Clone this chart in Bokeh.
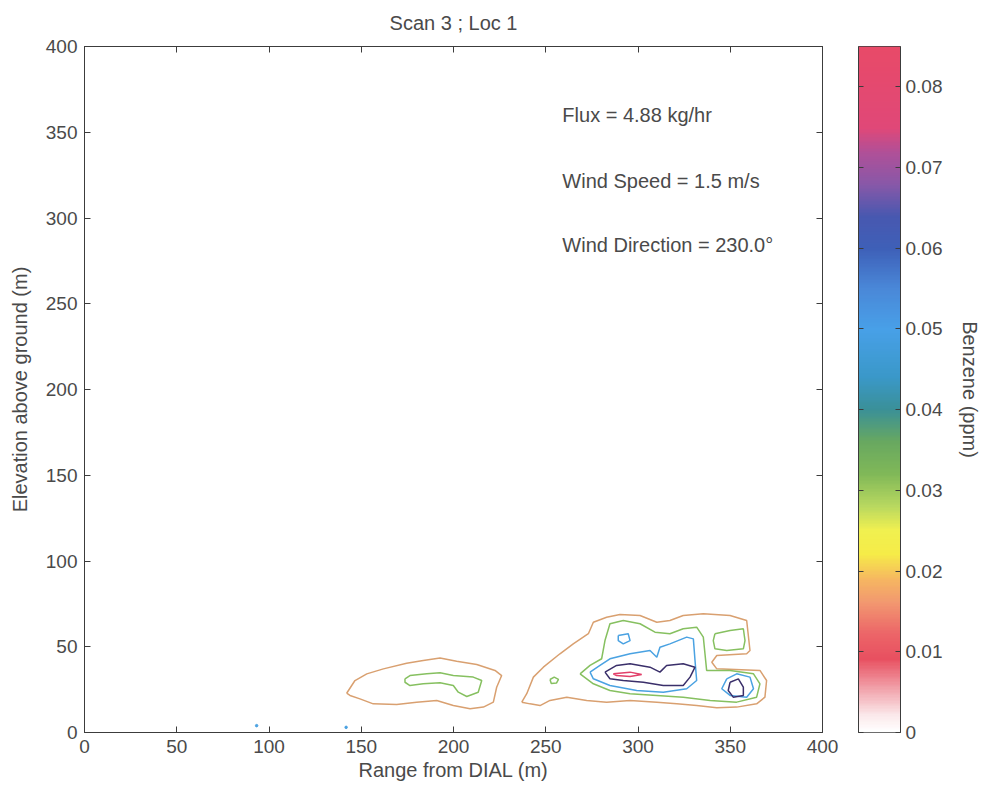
import numpy as np
from bokeh.plotting import figure
from bokeh.layouts import row
from bokeh.models import (Range1d, LinearAxis, LinearColorMapper, FixedTicker,
                          ColumnDataSource, CustomJSTickFormatter, Title)
from bokeh.core.properties import value
from bokeh.embed import file_html
from bokeh.resources import INLINE

# ---------------- data ----------------
x_ticks = [0, 50, 100, 150, 200, 250, 300, 350, 400]
y_ticks = [0, 50, 100, 150, 200, 250, 300, 350, 400]
cbar_ticks = [0, 0.01, 0.02, 0.03, 0.04, 0.05, 0.06, 0.07, 0.08]
cbar_low, cbar_high = 0.0, 0.085

# contour levels (ppm)
levels = [0.017, 0.031, 0.048, 0.064, 0.078]

# left plume, outer contour (level 0.017)
c1_x = [142.1, 146.6, 153.0, 162.0, 174.6, 183.6, 192.7, 201.7, 212.6, 222.5, 226.1, 223.4,
        221.6, 216.2, 209.0, 199.9, 190.9, 180.0, 169.2, 156.5, 149.3, 143.9, 142.1]
c1_y = [22.9, 30.3, 34.2, 37.1, 40.4, 42.0, 43.5, 41.6, 39.7, 36.2, 33.2, 26.4,
        17.7, 14.8, 13.8, 15.7, 18.7, 17.7, 16.3, 16.7, 19.6, 21.6, 22.9]
# left plume, inner contour (level 0.031)
c2_x = [173.7, 176.4, 185.5, 192.7, 199.9, 210.7, 215.3, 213.4, 207.2, 202.6, 199.9, 192.7,
        183.6, 176.4, 173.7, 173.7]
c2_y = [31.3, 33.2, 34.2, 34.8, 33.2, 32.3, 30.3, 23.5, 21.0, 23.5, 27.4, 29.0,
        28.4, 27.4, 29.3, 31.3]
# right plume, outer contour (level 0.017)
c3_x = [237.0, 239.7, 243.3, 248.7, 257.7, 264.9, 273.1, 275.8, 283.0, 290.2, 301.1, 310.2,
        317.3, 324.5, 335.4, 349.9, 358.9, 360.7, 358.9, 342.7, 340.0, 342.7, 366.1, 369.7,
        368.8, 364.3, 353.5, 342.7, 331.8, 321.0, 310.2, 295.7, 283.0, 272.2, 261.4, 252.3,
        246.9, 241.5, 237.0]
c3_y = [17.7, 22.6, 32.3, 38.1, 45.9, 51.7, 57.6, 64.3, 67.2, 68.8, 68.2, 64.3,
        65.3, 68.2, 69.2, 68.2, 65.3, 47.8, 45.9, 44.9, 41.0, 37.1, 36.2, 30.3,
        20.6, 16.7, 14.8, 14.4, 15.7, 16.7, 17.7, 18.7, 17.7, 18.7, 20.6, 18.7,
        15.7, 16.7, 17.7]
# right plume, level 0.031 main loop
c4_x = [268.6, 274.0, 280.3, 282.1, 284.8, 292.0, 301.1, 309.2, 317.3, 324.5, 331.8, 335.4,
        336.3, 337.2, 349.9, 362.6, 366.1, 364.3, 353.5, 339.1, 324.5, 310.2, 295.7, 284.8,
        275.8, 268.6]
c4_y = [34.2, 39.1, 43.0, 53.6, 63.4, 65.3, 63.4, 58.5, 57.6, 60.5, 61.4, 55.6,
        45.9, 36.2, 36.2, 34.2, 28.4, 20.6, 17.7, 18.7, 20.6, 21.6, 22.6, 24.5,
        28.4, 34.2]
# right plume, level 0.031 upper-right loop
c5_x = [341.7, 349.9, 357.1, 358.0, 357.1, 348.1, 341.7, 340.8, 341.7]
c5_y = [57.6, 59.5, 60.5, 53.6, 48.8, 47.8, 48.8, 53.6, 57.6]
# right plume, level 0.031 small spot
c6_x = [252.3, 254.6, 256.9, 255.8, 253.0, 252.3]
c6_y = [30.9, 32.3, 31.0, 28.8, 28.6, 30.9]
# right plume, level 0.048 main loop
c7_x = [274.0, 279.4, 284.8, 295.7, 306.5, 310.2, 311.9, 317.3, 326.4, 330.0, 330.9, 331.8,
        326.4, 313.7, 299.3, 284.8, 275.8, 274.0]
c7_y = [35.2, 39.1, 43.0, 45.9, 47.8, 43.9, 49.7, 51.7, 55.6, 54.6, 42.0, 30.3,
        25.5, 23.5, 24.5, 27.4, 31.3, 35.2]
# level 0.048 upper small loop
c8_x = [289.3, 294.7, 295.7, 292.0, 289.3, 289.3]
c8_y = [56.6, 57.6, 53.6, 51.7, 53.6, 56.6]
# level 0.048 lower-right loop
c9_x = [348.1, 353.5, 360.7, 362.6, 358.9, 349.9, 345.4, 348.1]
c9_y = [31.3, 34.2, 32.3, 25.5, 20.6, 21.6, 25.5, 31.3]
# level 0.064 main loop
c10_x = [282.1, 288.4, 295.7, 306.5, 311.9, 315.5, 324.5, 330.9, 328.2, 324.5, 313.7, 302.9,
         292.0, 284.8, 282.1]
c10_y = [35.2, 39.1, 40.1, 38.1, 35.2, 39.1, 40.1, 38.1, 32.3, 27.4, 27.4, 29.3,
         30.3, 31.3, 35.2]
# level 0.064 lower-right loop
c11_x = [349.9, 354.4, 357.1, 357.1, 351.6, 348.9, 349.9]
c11_y = [29.3, 31.3, 26.4, 21.6, 20.6, 24.5, 29.3]
# level 0.078 core
c12_x = [286.6, 295.7, 302.0, 295.7, 288.4, 286.6]
c12_y = [34.2, 35.2, 33.8, 32.7, 33.2, 34.2]

contour_xs = [c1_x, c2_x, c3_x, c4_x, c5_x, c6_x, c7_x, c8_x, c9_x, c10_x, c11_x, c12_x]
contour_ys = [c1_y, c2_y, c3_y, c4_y, c5_y, c6_y, c7_y, c8_y, c9_y, c10_y, c11_y, c12_y]
contour_level = [0.017, 0.031, 0.017, 0.031, 0.031, 0.031, 0.048, 0.048, 0.048, 0.064, 0.064, 0.078]

# stray specks near the ground
speck_x = [93.3, 141.8]
speck_y = [4.0, 3.0]

annot_text = ["Flux = 4.88 kg/hr", "Wind Speed = 1.5 m/s", "Wind Direction = 230.0\u00b0"]
annot_x = [259, 259, 259]
annot_y = [360, 321.5, 284]

cbar_label = "Benzene (ppm)"

# ---------------- styling ----------------
FONT = "Liberation Sans"
TXT = "#4a4a4a"
AX = "#3c3c3c"
FS = "20px"
TFS = "19px"
H = 790
W_MAIN = 846

level_colors = {0.017: "#d9a070", 0.031: "#86c060", 0.048: "#4aa2e2", 0.064: "#3a2f6a", 0.078: "#e2406a"}

stops_v = [0.0, 0.002, 0.005, 0.009, 0.012, 0.016, 0.019, 0.022, 0.025, 0.028, 0.032, 0.036,
           0.040, 0.044, 0.050, 0.055, 0.060, 0.064, 0.068, 0.072, 0.075, 0.085]
stops_c = ["#ffffff", "#fbe8ea", "#f2a8b0", "#e85060", "#ec6468", "#f29870", "#f6b860", "#f6ec48",
           "#f0f050", "#b8d860", "#80b858", "#68a860", "#3a9098", "#3a98c8", "#48a0e8", "#4a88d8",
           "#3e60b8", "#4858b0", "#8858a8", "#b05098", "#e04878", "#e84a68"]

def _rgb(h):
    return [int(h[i:i + 2], 16) for i in (1, 3, 5)]

grid = np.linspace(cbar_low, cbar_high, 256)
rgb = np.array([_rgb(c) for c in stops_c], dtype=float)
palette = []
for g in grid:
    r, gg, b = (np.interp(g, stops_v, rgb[:, k]) for k in range(3))
    palette.append("#%02x%02x%02x" % (int(round(r)), int(round(gg)), int(round(b))))

mapper = LinearColorMapper(palette=palette, low=cbar_low, high=cbar_high)
blank = CustomJSTickFormatter(code="return ''")


def style_axis(ax, labels=True):
    ax.major_tick_in = 6
    ax.major_tick_out = 0
    ax.minor_tick_line_color = None
    ax.axis_line_color = AX
    ax.major_tick_line_color = AX
    ax.major_label_text_font = FONT
    ax.major_label_text_font_size = TFS
    ax.major_label_text_color = TXT
    ax.axis_label_text_font = FONT
    ax.axis_label_text_font_size = FS
    ax.axis_label_text_font_style = "normal"
    ax.axis_label_text_color = TXT
    ax.major_label_standoff = 7 if labels else 0
    if not labels:
        ax.formatter = blank


# ---------------- main plot ----------------
p = figure(width=W_MAIN, height=H, output_backend="svg", toolbar_location=None,
           x_range=Range1d(0, 400), y_range=Range1d(0, 400),
           min_border_left=84, min_border_top=46, min_border_bottom=58,
           min_border_right=W_MAIN - 822)
p.title = Title(text="Scan 3 ; Loc 1", align="center", vertical_align="top",
                text_font=FONT, text_font_size=FS,
                text_font_style="normal", text_color=TXT, offset=0, standoff=22)
p.grid.visible = False
p.outline_line_color = AX

style_axis(p.xaxis[0])
style_axis(p.yaxis[0])
p.xaxis.ticker = FixedTicker(ticks=x_ticks)
p.yaxis.ticker = FixedTicker(ticks=y_ticks)
p.xaxis.axis_label = "Range from DIAL (m)"
p.yaxis.axis_label = "Elevation above ground (m)"
p.xaxis.axis_label_standoff = 3
p.yaxis.axis_label_standoff = 12

top_ax = LinearAxis(ticker=FixedTicker(ticks=x_ticks))
style_axis(top_ax, labels=False)
right_ax = LinearAxis(ticker=FixedTicker(ticks=y_ticks))
style_axis(right_ax, labels=False)
p.add_layout(top_ax, "above")
p.add_layout(right_ax, "right")

src = ColumnDataSource(dict(xs=contour_xs, ys=contour_ys, level=contour_level,
                            color=[level_colors[l] for l in contour_level]))
p.multi_line(xs="xs", ys="ys", line_color="color", line_width=1.5, source=src)
p.scatter(speck_x, speck_y, size=2.5, color="#4aa2e2")

p.text(x=annot_x, y=annot_y, text=annot_text, text_font=value(FONT), text_font_size=FS,
       text_color=TXT, text_baseline="middle", text_align="left")

# ---------------- colour bar (separate narrow figure) ----------------
cbw = 984 - W_MAIN
cb_left_border = 858 - W_MAIN
cb = figure(width=cbw, height=H, output_backend="svg", toolbar_location=None,
            x_range=Range1d(0, 1), y_range=Range1d(cbar_low, cbar_high),
            min_border_left=cb_left_border, min_border_right=cbw - cb_left_border - 42,
            min_border_top=46, min_border_bottom=58,
            x_axis_location=None, y_axis_location=None)
cb.grid.visible = False
cb.outline_line_color = AX
cb.image(image=[grid.reshape(-1, 1)], x=0, y=cbar_low, dw=1, dh=cbar_high - cbar_low,
         color_mapper=mapper)

cb_left = LinearAxis(ticker=FixedTicker(ticks=cbar_ticks))
style_axis(cb_left, labels=False)
cb_left.major_tick_in = 5
cb.add_layout(cb_left, "left")

cb_right = LinearAxis(ticker=FixedTicker(ticks=cbar_ticks),
                      formatter=CustomJSTickFormatter(code="return tick == 0 ? '0' : tick.toFixed(2)"))
style_axis(cb_right)
cb_right.major_tick_in = 5
cb_right.major_label_standoff = 5
cb_right.axis_label = cbar_label
cb_right.axis_label_standoff = 14
cb.add_layout(cb_right, "right")

layout = row(p, cb, spacing=0)
open("out.html", "w").write(file_html(layout, INLINE))
